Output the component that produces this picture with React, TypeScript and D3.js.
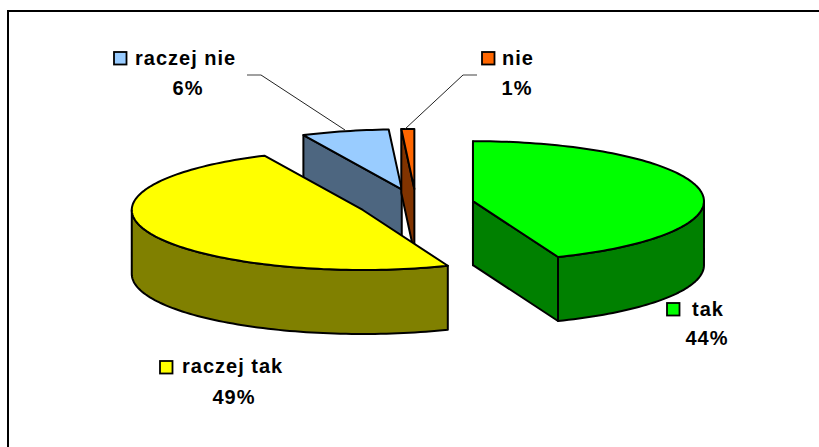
import React from 'react';
import * as d3 from 'd3';

const categories = ['tak', 'raczej tak', 'raczej nie', 'nie'];
const shares = [44, 49, 6.1, 0.9];
const topColors = ['#00ff00', '#ffff00', '#99ccff', '#ff6600'];
const sideColors = ['#008000', '#808000', '#4d6680', '#803300'];

// painter's order, back slices first
const drawOrder = [2, 3, 0, 1];

// legend key top-left, text start and percent centre for each label
const keyPos = [[667, 303], [160, 361], [114, 52], [482, 52]];
const textPos = [[692, 316], [182, 373], [135, 65], [502, 65]];
const pctPos = [[707, 345], [234, 404], [188, 95], [517, 95]];

const leaders = [
  { stub: [[247, 75], [261, 75]], line: [[261, 75], [345, 130]] },
  { stub: [[477, 75], [463, 75]], line: [[463, 75], [405, 129]] },
];

const width = 819;
const height = 447;
const cx = 416;
const cy = 204;
const rx = 231;
const ry = 60;
const depth = 64;
const explode = 58;

const slices = d3.pie<number>().sort(null)(shares);

const point = (o: number[], t: number, dy = 0) => [
  o[0] + rx * Math.sin(t),
  o[1] - ry * Math.cos(t) + dy,
];

const line = d3.line();

const arcPoints = (o: number[], a0: number, a1: number, dy = 0) => {
  const n = Math.max(2, Math.ceil(Math.abs(a1 - a0) * 40));
  return d3.range(n + 1).map(i => point(o, a0 + ((a1 - a0) * i) / n, dy));
};

const Slice = ({ index }: { index: number }) => {
  const { startAngle: a0, endAngle: a1 } = slices[index];
  const mid = (a0 + a1) / 2;
  const o = [
    cx + explode * Math.sin(mid),
    cy - (explode * ry * Math.cos(mid)) / rx,
  ];

  const top = [o, ...arcPoints(o, a0, a1)];

  // outer wall only shows on the lower half of the ellipse
  const r0 = Math.max(a0, Math.PI / 2);
  const r1 = Math.min(a1, (3 * Math.PI) / 2);
  const wall =
    r1 > r0
      ? [...arcPoints(o, r0, r1), ...arcPoints(o, r1, r0, depth)]
      : null;

  const faces: number[][][] = [];
  if (Math.sin(a0) <= 1e-9) {
    const p = point(o, a0);
    faces.push([o, p, [p[0], p[1] + depth], [o[0], o[1] + depth]]);
  }
  if (Math.sin(a1) > 1e-9) {
    const p = point(o, a1);
    faces.push([o, p, [p[0], p[1] + depth], [o[0], o[1] + depth]]);
  }

  return (
    <g stroke="#000" strokeWidth={2} strokeLinejoin="round">
      {faces.map((f, i) => (
        <path key={i} d={line(f as [number, number][]) + 'Z'} fill={sideColors[index]} />
      ))}
      {wall && (
        <path d={line(wall as [number, number][]) + 'Z'} fill={sideColors[index]} />
      )}
      <path d={line(top as [number, number][]) + 'Z'} fill={topColors[index]} />
    </g>
  );
};

const labelStyle: React.CSSProperties = {
  fontFamily: '"Liberation Sans", Arial, sans-serif',
  fontWeight: 700,
  fontSize: 20,
  letterSpacing: 1,
};

export default function App() {
  return (
    <svg
      width={width}
      height={height}
      style={{ position: 'absolute', left: 0, top: 0, background: '#fff' }}
    >
      <line x1={8} y1={447} x2={8} y2={11} stroke="#000" strokeWidth={2} />
      <line x1={7} y1={11} x2={819} y2={11} stroke="#000" strokeWidth={2} />

      {drawOrder.map(i => (
        <Slice key={i} index={i} />
      ))}

      {leaders.map((l, i) => (
        <g key={i} fill="none">
          <path d={line(l.line as [number, number][])!} stroke="#222" strokeWidth={1} />
          <path d={line(l.stub as [number, number][])!} stroke="#808080" strokeWidth={1.5} />
        </g>
      ))}

      {categories.map((c, i) => (
        <g key={c} style={labelStyle} fill="#000">
          <rect
            x={keyPos[i][0]}
            y={keyPos[i][1]}
            width={12.5}
            height={12.5}
            fill={topColors[i]}
            stroke="#000"
            strokeWidth={1.8}
          />
          <text x={textPos[i][0]} y={textPos[i][1]}>{c}</text>
          <text x={pctPos[i][0]} y={pctPos[i][1]} textAnchor="middle">
            {d3.format('.0f')(shares[i])}%
          </text>
        </g>
      ))}
    </svg>
  );
}
